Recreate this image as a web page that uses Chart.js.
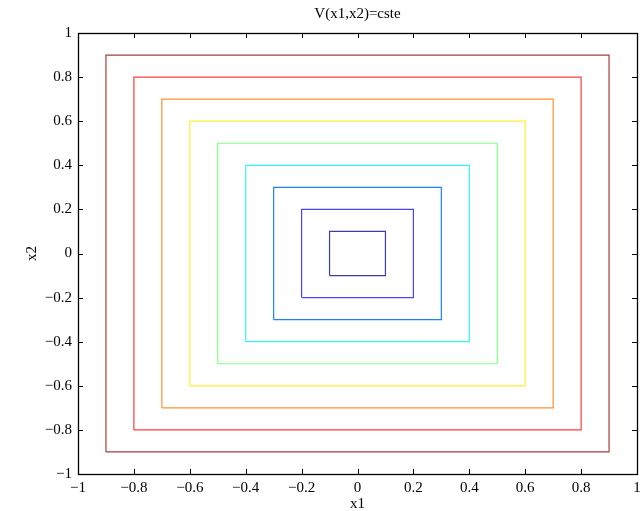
<!DOCTYPE html>
<html>
<head>
<meta charset="utf-8">
<script src="https://cdn.jsdelivr.net/npm/chart.js@4/dist/chart.umd.min.js"></script>
<style>
  html, body { margin: 0; padding: 0; background: #fff; }
  #wrap { width: 640px; height: 511px; }
</style>
</head>
<body>
<div id="wrap"><canvas id="mychart"></canvas></div>
<script>
// contour levels V(x1,x2) = max(|x1|,|x2|) = c
const levels = [0.1, 0.2, 0.3, 0.4, 0.5, 0.6, 0.7, 0.8, 0.9];
const levelColors = [
  'rgb(60,60,170)', 'rgb(70,70,255)', 'rgb(30,130,255)', 'rgb(50,245,245)',
  'rgb(130,255,130)', 'rgb(255,240,50)', 'rgb(255,145,50)', 'rgb(255,60,60)', 'rgb(170,60,60)'
];
const xMin = -1, xMax = 1, yMin = -1, yMax = 1, step = 0.2;

function fmt(v) {
  v = Number(v.toFixed(1));
  return v < 0 ? '\u2212' + Math.abs(v) : String(v);
}

let datasets = levels.map(function (c, i) {
  return {
    label: 'V=' + c,
    data: [
      {x: -c, y: -c}, {x: c, y: -c}, {x: c, y: c}, {x: -c, y: c}, {x: -c, y: -c}
    ],
    showLine: true,
    fill: false,
    borderColor: levelColors[i],
    borderWidth: 1.2,
    pointRadius: 0,
    tension: 0
  };
});

// box round the plot and ticks pointing inward, like matlab
const boxTicks = {
  id: 'boxTicks',
  afterDraw(chart) {
    const ctx = chart.ctx;
    const a = chart.chartArea;
    const xs = chart.scales.x, ys = chart.scales.y;
    const len = 5;
    ctx.save();
    ctx.strokeStyle = '#000';
    ctx.lineWidth = 1;
    ctx.beginPath();
    xs.ticks.forEach(function (t) {
      const px = Math.round(xs.getPixelForValue(t.value)) + 0.5;
      ctx.moveTo(px, a.bottom); ctx.lineTo(px, a.bottom - len);
      ctx.moveTo(px, a.top); ctx.lineTo(px, a.top + len);
    });
    ys.ticks.forEach(function (t) {
      const py = Math.round(ys.getPixelForValue(t.value)) + 0.5;
      ctx.moveTo(a.left, py); ctx.lineTo(a.left + len, py);
      ctx.moveTo(a.right, py); ctx.lineTo(a.right - len, py);
    });
    ctx.stroke();
    ctx.lineWidth = 1.3;
    ctx.strokeRect(Math.round(a.left) + 0.5, Math.round(a.top) + 0.5,
      Math.round(a.right - a.left), Math.round(a.bottom - a.top));
    ctx.restore();
  }
};

const font = {family: '"Liberation Serif", "DejaVu Serif", serif', size: 15, weight: 'normal'};

var ctx = document.getElementById('mychart').getContext('2d');
var myChart = new Chart(ctx, {
  type: 'scatter',
  data: {datasets: datasets},
  options: {
    responsive: true,
    maintainAspectRatio: false,
    animation: false,
    layout: {padding: {left: 0, right: 3, top: 0, bottom: 0}},
    plugins: {
      legend: {display: false},
      tooltip: {enabled: false},
      title: {
        display: true,
        text: 'V(x1,x2)=cste',
        color: '#000',
        font: font,
        fullSize: false,
        padding: {top: 5, bottom: 10}
      }
    },
    scales: {
      x: {
        type: 'linear',
        min: xMin, max: xMax,
        grid: {display: false, drawTicks: false},
        border: {display: false},
        ticks: {stepSize: step, color: '#000', font: font, padding: 5, maxRotation: 0,
          callback: function (v) { return fmt(v); }},
        title: {display: true, text: 'x1', color: '#000', font: font, padding: {top: 0, bottom: -2}},
        afterFit: function (s) { s.height = 37; s.paddingLeft = 0; s.paddingRight = 0; }
      },
      y: {
        type: 'linear',
        min: yMin, max: yMax,
        grid: {display: false, drawTicks: false},
        border: {display: false},
        ticks: {stepSize: step, color: '#000', font: font, padding: 6,
          callback: function (v) { return fmt(v); }},
        title: {display: true, text: 'x2', color: '#000', font: font, padding: {top: 23, bottom: 0}},
        afterFit: function (s) { s.width = 78; s.paddingTop = 0; s.paddingBottom = 0; }
      }
    }
  },
  plugins: [boxTicks]
});
</script>
</body>
</html>
